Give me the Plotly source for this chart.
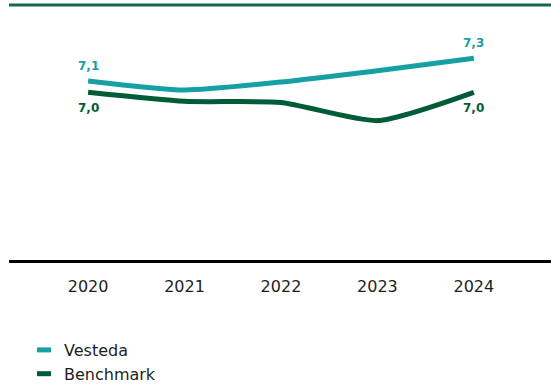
import plotly.graph_objects as go

years = ["2020", "2021", "2022", "2023", "2024"]
vesteda = [7.10, 7.02, 7.09, 7.19, 7.30]
benchmark = [7.00, 6.92, 6.91, 6.75, 7.00]

TEAL = "#16a0a3"
DARK = "#005c37"
TOPLINE = "#1a6847"
FONT = "DejaVu Sans"

idx = list(range(len(years)))

fig = go.Figure()
fig.add_trace(go.Scatter(x=idx, y=vesteda, mode="lines", line=dict(color=TEAL, width=5, shape="spline", smoothing=0.6),
                         showlegend=False, hoverinfo="skip"))
fig.add_trace(go.Scatter(x=idx, y=benchmark, mode="lines", line=dict(color=DARK, width=5, shape="spline", smoothing=0.6),
                         showlegend=False, hoverinfo="skip"))
# legend entries
for name, col in [("Vesteda", TEAL), ("Benchmark", DARK)]:
    fig.add_trace(go.Scatter(x=[None], y=[None], mode="markers", name=name,
                             marker=dict(symbol="line-ew", size=10, line=dict(color=col, width=5))))

def fmt(v):
    return f"{v:.1f}".replace(".", ",")

ann = []
for i in [0, len(years) - 1]:
    ann.append(dict(x=idx[i], y=vesteda[i], text=f"<b>{fmt(vesteda[i])}</b>", showarrow=False, yshift=15,
                    font=dict(family=FONT, size=12, color=TEAL)))
    ann.append(dict(x=idx[i], y=benchmark[i], text=f"<b>{fmt(benchmark[i])}</b>", showarrow=False, yshift=-16,
                    font=dict(family=FONT, size=12, color=DARK)))

fig.update_layout(
    width=551, height=387,
    margin=dict(l=9, r=0, t=5, b=127, autoexpand=False),
    paper_bgcolor="white", plot_bgcolor="white",
    font=dict(family=FONT, size=16, color="#1e1e1e"),
    xaxis=dict(range=[-0.82, 4.80], tickvals=idx, ticktext=years, showgrid=False, zeroline=False,
               showline=True, linecolor="black", linewidth=2.5, ticks="", ticklabelstandoff=10,
               tickfont=dict(family=FONT, size=16, color="#1e1e1e"), fixedrange=True),
    yaxis=dict(range=[5.52, 7.77], showticklabels=False, showgrid=False, zeroline=False, showline=False,
               fixedrange=True),
    shapes=[dict(type="line", xref="paper", yref="paper", x0=0, x1=1, y0=1, y1=1,
                 line=dict(color=TOPLINE, width=3))],
    annotations=ann,
    legend=dict(xref="container", yref="container", x=24 / 551, y=1 - 333 / 387, xanchor="left", yanchor="top",
                orientation="v", font=dict(family=FONT, size=16, color="#1e1e1e"), bgcolor="rgba(0,0,0,0)",
                itemwidth=30, tracegroupgap=0),
    showlegend=True,
)

fig.write_html("out.html")
